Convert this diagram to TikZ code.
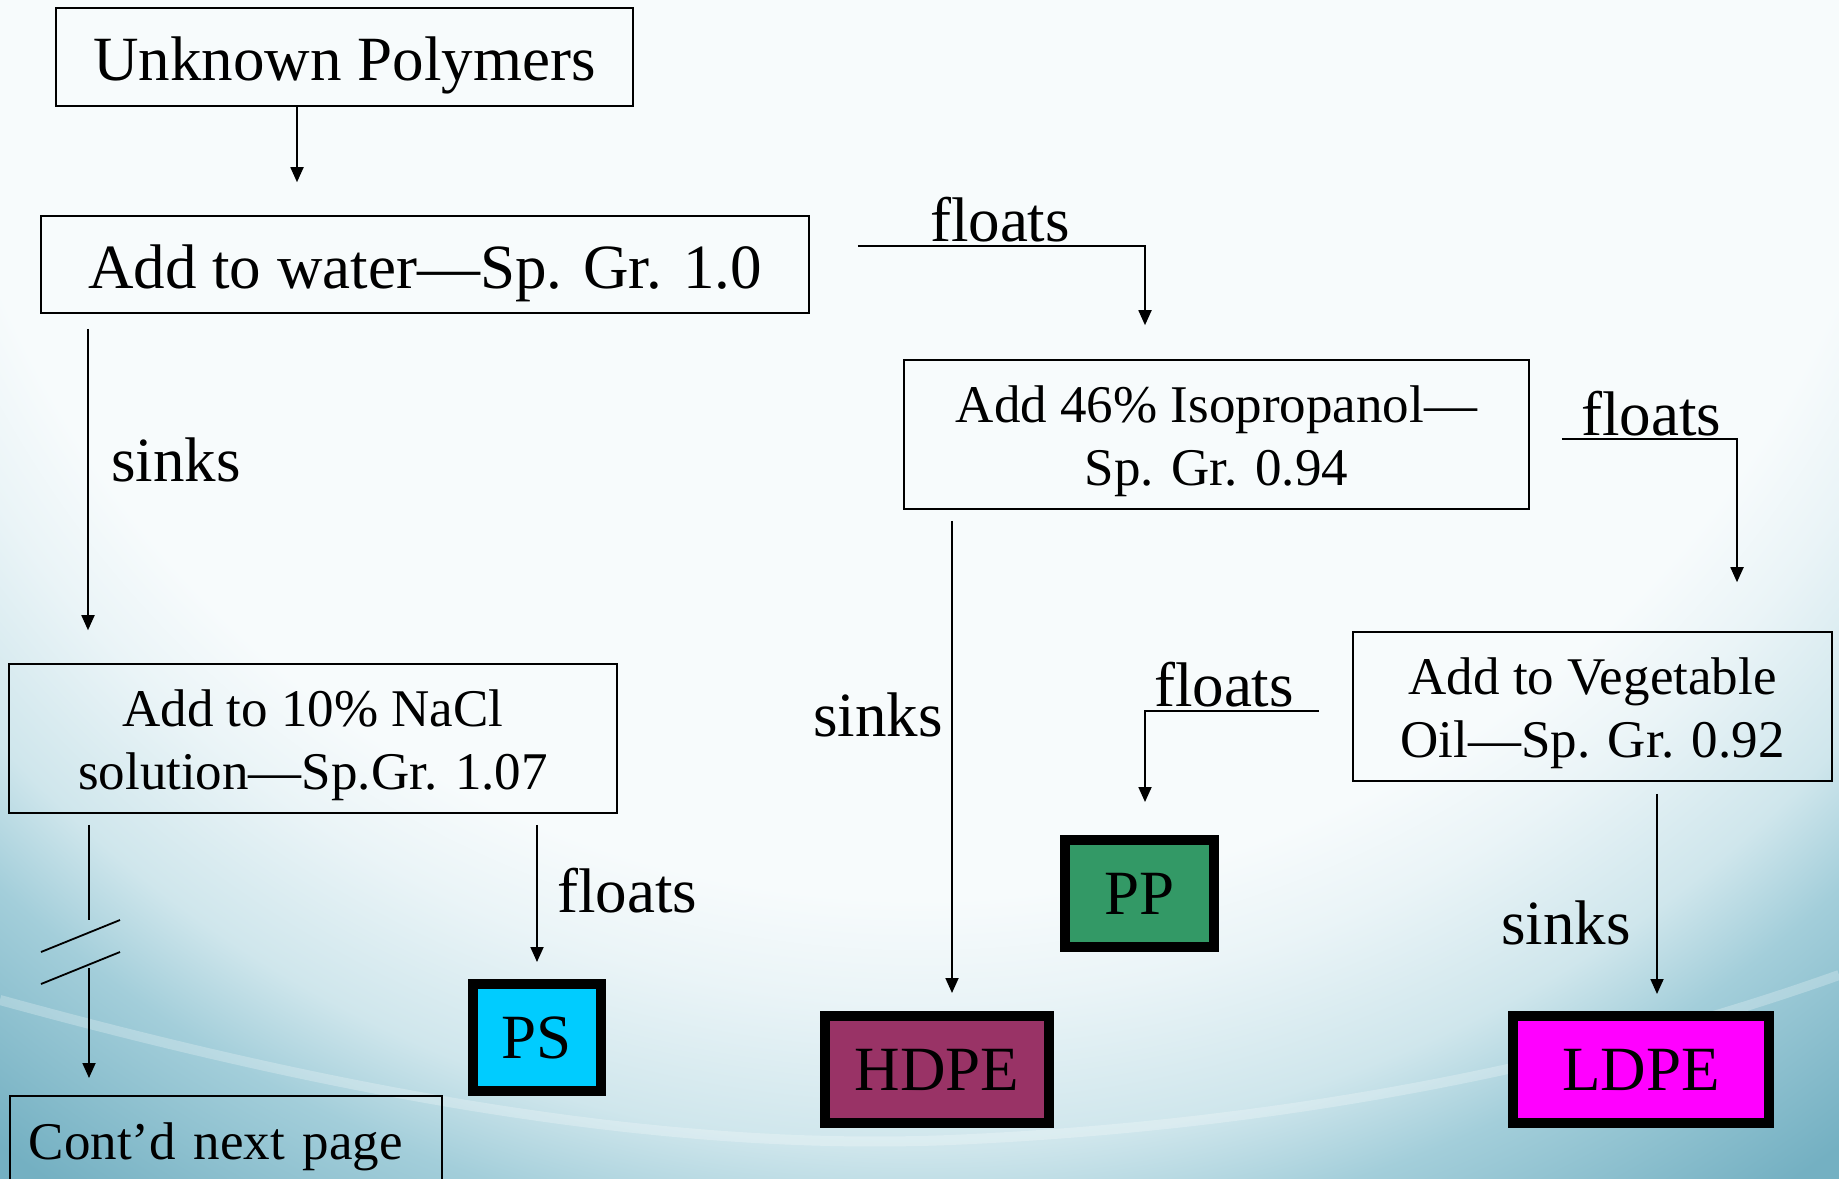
\documentclass[tikz,border=0pt]{standalone}
\usepackage{fontspec}
\setmainfont{Liberation Serif}
\usetikzlibrary{arrows.meta,calc}
\newcommand\bigsz{\fontsize{63}{70}\selectfont}
\newcommand\smsz{\fontsize{53}{63}\selectfont}
\definecolor{bgA}{HTML}{F7FBFC}
\definecolor{bgB}{HTML}{EAF4F7}
\definecolor{bgC}{HTML}{CFE6EC}
\definecolor{bgD}{HTML}{A3CEDA}
\definecolor{bgE}{HTML}{74B0C2}
\definecolor{psc}{HTML}{00CCFF}
\definecolor{hdpec}{HTML}{993366}
\definecolor{ppc}{HTML}{339966}
\definecolor{ldpec}{HTML}{FF00FF}
\pgfdeclareradialshading{bgrad}{\pgfpoint{0bp}{0bp}}{color(0bp)=(bgA); color(15.6bp)=(bgA); color(17.2bp)=(bgB); color(19.5bp)=(bgC); color(21.1bp)=(bgD); color(24.2bp)=(bgE); color(50bp)=(bgE)}
\tikzset{
  stepbox/.style={draw=black, line width=1.6pt, inner sep=0pt, align=center},
  onel/.style={font=\bigsz, text height=61pt, text depth=14pt},
  twol/.style={font=\smsz, text height=113.2pt, text depth=11.5pt},
  resbox/.style={draw=black, fill=#1, line width=10pt, inner sep=0pt, minimum height=107pt, font=\bigsz},
  conn/.style={line width=1.8pt},
  arr/.style={line width=1.8pt, -{Triangle[length=15pt,width=13pt]}},
  lbl/.style={inner sep=0pt, font=\bigsz, anchor=base}
}
\begin{document}
\begin{tikzpicture}[x=1pt,y=-1pt]
\clip (0,0) rectangle (1839,1178);
\useasboundingbox (0,0) rectangle (1839,1178);
\fill[bgE] (0,0) rectangle (1839,1178);
\shade[shading=bgrad] (920,-100) circle (1600);
\draw[white, opacity=0.25, line width=10pt] (0,1000) .. controls (400,1110) and (700,1150) .. (950,1140) .. controls (1300,1125) and (1600,1060) .. (1839,975);

% step boxes
\node[stepbox, onel, minimum width=577pt, minimum height=98pt] (unk) at (344.5,57) {Unknown Polymers};
\node[stepbox, onel, minimum width=768pt, minimum height=97pt] (water) at (425,264.5) {Add to water—Sp. Gr. 1.0};
\node[stepbox, twol, minimum width=625pt, minimum height=149pt] (iso) at (1216.5,434.5) {Add 46\% Isopropanol—\\Sp. Gr. 0.94};
\node[stepbox, twol, minimum width=608pt, minimum height=149pt] (nacl) at (313,738.5) {Add to 10\% NaCl\\solution—Sp.Gr. 1.07};
\node[stepbox, twol, minimum width=479pt, minimum height=149pt] (veg) at (1592.5,706.5) {Add to Vegetable\\Oil—Sp. Gr. 0.92};
\node[draw=black, line width=1.6pt, font=\smsz, anchor=north west, inner xsep=19pt, inner ysep=27pt, text width=394pt, align=left] (cont) at (9,1095) {Cont’d next page};

% result boxes
\node[resbox=psc, minimum width=128pt] (ps) at (537,1037.5) {PS};
\node[resbox=hdpec, minimum width=224pt] (hdpe) at (937,1069.5) {HDPE};
\node[resbox=ppc, minimum width=149pt] (pp) at (1139.5,893.5) {PP};
\node[resbox=ldpec, minimum width=256pt] (ldpe) at (1641,1069.5) {LDPE};

% x positions of connectors
\coordinate (xa) at (297,0);
\coordinate (xb) at (88,0);
\coordinate (xc) at (1145,0);
\coordinate (xd) at (1737,0);
\coordinate (xe) at (952,0);
\coordinate (xg) at (1657,0);
\coordinate (xh) at (537,0);
\coordinate (xi) at (89,0);

% connectors
\draw[arr] (unk.south -| xa) -- ($(water.north -| xa)+(0,-33)$);
\draw[arr] ($(water.south -| xb)+(0,15)$) -- ($(nacl.north -| xb)+(0,-33)$);
\draw[arr] ($(water.north east)+(48,31)$) -| ($(iso.north -| xc)+(0,-34)$);
\draw[arr] ($(iso.north east)+(32,80)$) -| ($(veg.north -| xd)+(0,-49)$);
\draw[arr] ($(iso.south -| xe)+(0,11)$) -- ($(hdpe.north -| xe)+(0,-18)$);
\draw[arr] ($(veg.north west)+(-33,80)$) -| ($(pp.north -| xc)+(0,-33)$);
\draw[arr] ($(veg.south -| xg)+(0,12)$) -- ($(ldpe.north -| xg)+(0,-17)$);
\draw[arr] ($(nacl.south -| xh)+(0,11)$) -- ($(ps.north -| xh)+(0,-17)$);
\draw[conn] ($(nacl.south -| xi)+(0,11)$) -- ($(nacl.south -| xi)+(0,106)$);
\draw[arr] ($(cont.north -| xi)+(0,-127)$) -- ($(cont.north -| xi)+(0,-17)$);
\draw[conn] (41,952) -- (120,920);
\draw[conn] (41,984) -- (120,952);

% labels
\node[lbl, anchor=base west] (l1) at (111,481) {sinks};
\node[lbl] (l2) at (1000,241) {floats};
\node[lbl] (l3) at (1651,435) {floats};
\node[lbl] (l4) at (878,736) {sinks};
\node[lbl] (l5) at (1224,706) {floats};
\node[lbl] (l6) at (1566,944) {sinks};
\node[lbl, anchor=base west] (l7) at (557,912) {floats};
\end{tikzpicture}
\end{document}
